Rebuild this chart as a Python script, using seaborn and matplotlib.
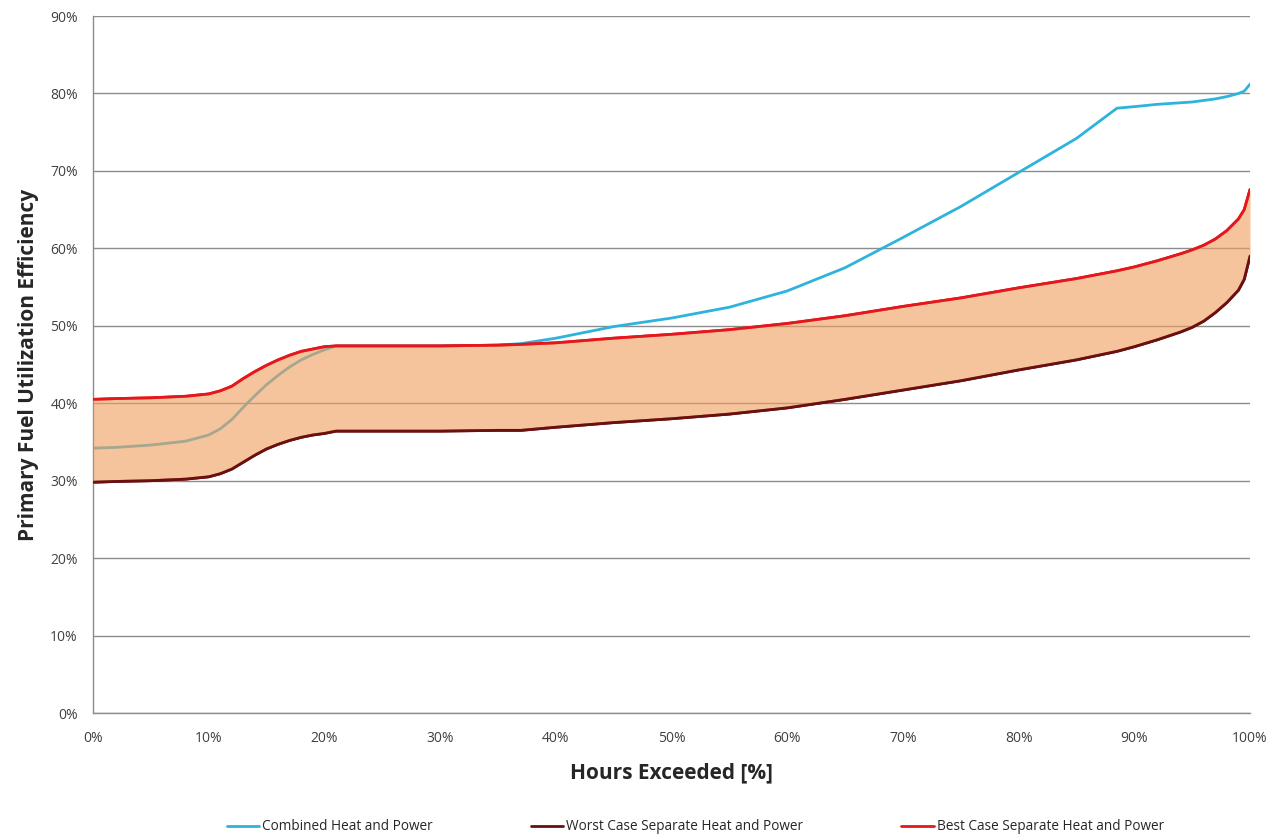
import matplotlib
matplotlib.use("Agg")
import matplotlib.pyplot as plt
import seaborn as sns
import pandas as pd
from matplotlib.ticker import PercentFormatter

# Hours exceeded (%) and efficiency curves (%)
hours = [0, 2, 5, 8, 10, 11, 12, 13, 14, 15, 16, 17, 18, 19, 20, 21, 25, 30, 35, 37,
         40, 45, 50, 55, 60, 65, 70, 75, 80, 85, 88.5, 90, 92, 94, 95, 96, 97, 98, 99, 99.5, 100]

chp = [34.2, 34.3, 34.6, 35.1, 35.9, 36.7, 37.9, 39.5, 41.0, 42.4, 43.6, 44.7, 45.6, 46.3,
       46.9, 47.4, 47.4, 47.4, 47.5, 47.7, 48.4, 49.9, 51.0, 52.4, 54.5, 57.5, 61.4, 65.4,
       69.8, 74.2, 78.1, 78.3, 78.6, 78.8, 78.9, 79.1, 79.3, 79.6, 80.0, 80.3, 81.2]

worst = [29.8, 29.9, 30.0, 30.2, 30.5, 30.9, 31.5, 32.4, 33.3, 34.1, 34.7, 35.2, 35.6, 35.9,
         36.1, 36.4, 36.4, 36.4, 36.5, 36.5, 36.9, 37.5, 38.0, 38.6, 39.4, 40.5, 41.7, 42.9,
         44.3, 45.6, 46.7, 47.3, 48.2, 49.2, 49.8, 50.6, 51.7, 53.0, 54.6, 56.0, 59.0]

best = [40.5, 40.6, 40.7, 40.9, 41.2, 41.6, 42.2, 43.2, 44.1, 44.9, 45.6, 46.2, 46.7, 47.0,
        47.3, 47.4, 47.4, 47.4, 47.5, 47.6, 47.8, 48.4, 48.9, 49.5, 50.3, 51.3, 52.5, 53.6,
        54.9, 56.1, 57.1, 57.6, 58.4, 59.3, 59.8, 60.4, 61.2, 62.3, 63.8, 65.0, 67.6]

series_names = ["Combined Heat and Power",
                "Worst Case Separate Heat and Power",
                "Best Case Separate Heat and Power"]
series_colors = ["#2DB3DC", "#6A1010", "#E5171C"]

x_ticks = list(range(0, 101, 10))
y_ticks = list(range(0, 91, 10))

sns.set_theme(style="white")
plt.rcParams["font.family"] = ["Open Sans", "DejaVu Sans"]

fig = plt.figure(figsize=(12.71, 8.35), dpi=100)
ax = fig.add_axes([0.0732, 0.1461, 0.9103, 0.8347])

df = pd.DataFrame({"hours": hours * 3,
                   "eff": chp + worst + best,
                   "series": [series_names[0]] * len(hours)
                             + [series_names[1]] * len(hours)
                             + [series_names[2]] * len(hours)})

sns.lineplot(data=df, x="hours", y="eff", hue="series", hue_order=series_names,
             palette=series_colors, linewidth=2.0, ax=ax, legend=False, zorder=2)

# Band between the best and worst separate-generation cases
ax.fill_between(hours, worst, best, color="#F0A060", alpha=0.62, linewidth=0, zorder=3)
# Redraw the boundary lines above the band
ax.plot(hours, worst, color=series_colors[1], linewidth=2.0, zorder=4)
ax.plot(hours, best, color=series_colors[2], linewidth=2.0, zorder=4)

ax.set_xlim(0, 100)
ax.set_ylim(0, 90)
ax.set_xticks(x_ticks)
ax.set_yticks(y_ticks)
ax.xaxis.set_major_formatter(PercentFormatter(decimals=0))
ax.yaxis.set_major_formatter(PercentFormatter(decimals=0))

ax.grid(axis="y", color="#8C8C8C", linewidth=1.0, zorder=1)
ax.set_axisbelow(True)
for side in ("top", "right"):
    ax.spines[side].set_visible(False)
for side in ("left", "bottom"):
    ax.spines[side].set_color("#8C8C8C")
    ax.spines[side].set_linewidth(1.0)

ax.tick_params(axis="both", which="major", direction="out", length=5, width=1,
               color="#8C8C8C", labelsize=10, labelcolor="#404040")
ax.tick_params(axis="x", pad=8)
ax.tick_params(axis="y", pad=6)

ax.set_xlabel("Hours Exceeded [%]", fontsize=15, fontweight="bold", labelpad=12)
ax.set_ylabel("Primary Fuel Utilization Efficiency", fontsize=15, fontweight="bold",
              labelpad=8)

handles = [plt.Line2D([], [], color=c, linewidth=2.0) for c in series_colors]
fig.legend(handles, series_names, loc="lower center", bbox_to_anchor=(0.547, -0.014),
           ncol=3, frameon=False, fontsize=9.8, handlelength=2.4, handletextpad=0.2,
           columnspacing=7.2)

fig.savefig("out.png", dpi=100)
